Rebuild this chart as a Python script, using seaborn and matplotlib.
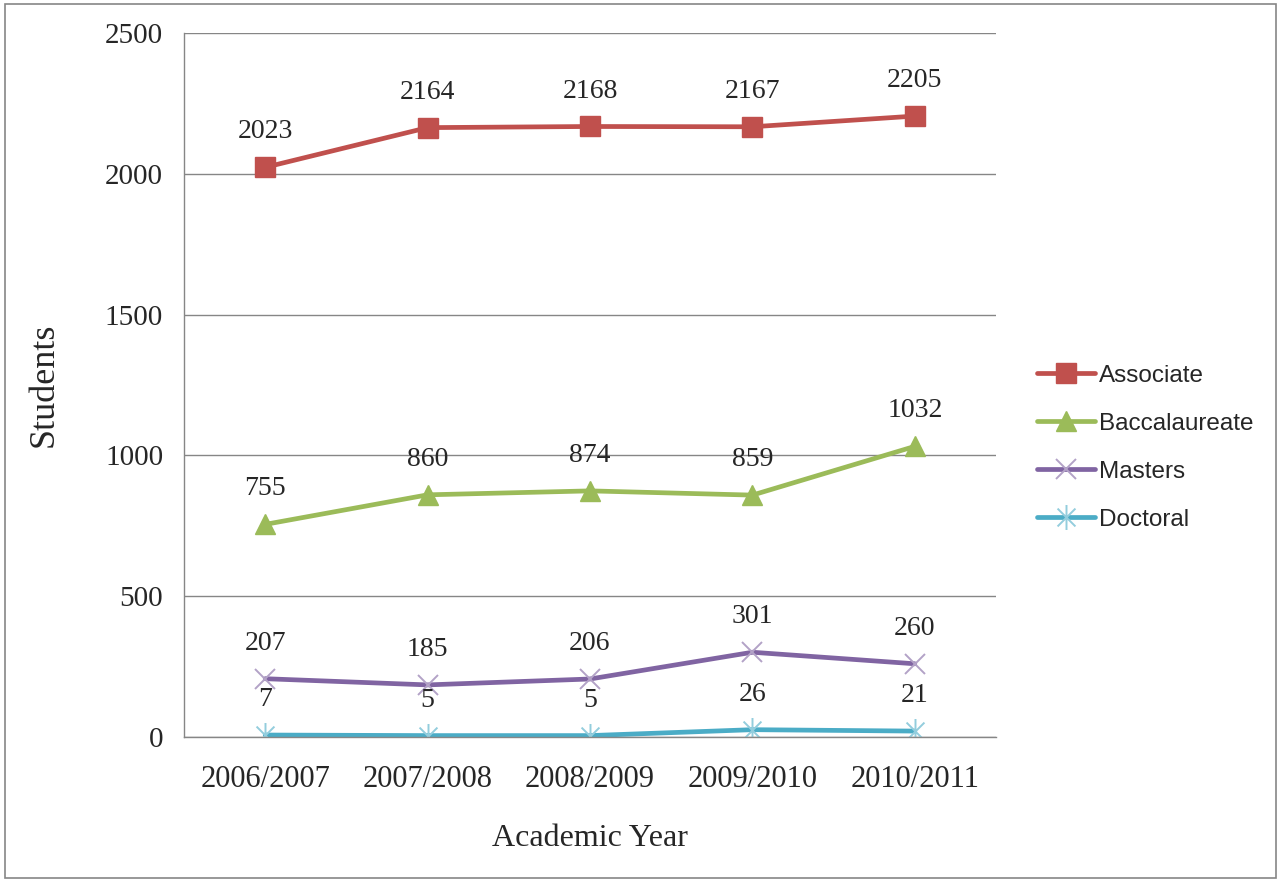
import numpy as np
import pandas as pd
import seaborn as sns
import matplotlib.pyplot as plt
from matplotlib.path import Path
from matplotlib.patches import Rectangle

years = ["2006/2007", "2007/2008", "2008/2009", "2009/2010", "2010/2011"]
associate = [2023, 2164, 2168, 2167, 2205]
baccalaureate = [755, 860, 874, 859, 1032]
masters = [207, 185, 206, 301, 260]
doctoral = [7, 5, 5, 26, 21]

# excel-style asterisk: x plus a vertical bar
star = Path([(-1, -1), (1, 1), (-1, 1), (1, -1), (0, -1.4), (0, 1.4)],
            [Path.MOVETO, Path.LINETO, Path.MOVETO, Path.LINETO, Path.MOVETO, Path.LINETO])

series = [
    ("Associate", associate, "#C0504D", "s", "#C0504D", 14.5),
    ("Baccalaureate", baccalaureate, "#9BBB59", "^", "#9BBB59", 14.5),
    ("Masters", masters, "#8064A2", "x", "#B3A2C7", 15),
    ("Doctoral", doctoral, "#4BACC6", star, "#93CDDD", 18),
]

sns.set_style("white")
serif = ["Liberation Serif", "DejaVu Serif"]

fig = plt.figure(figsize=(12.81, 8.82), dpi=100)
ax = fig.add_axes([184 / 1281, 1 - 737 / 882, (996 - 184) / 1281, (737 - 33) / 882])

for name, vals, col, mk, mcol, ms in series:
    sns.lineplot(x=years, y=vals, ax=ax, color=col, linewidth=3.4, marker=mk,
                 markersize=ms, markeredgecolor=mcol, markerfacecolor=mcol,
                 markeredgewidth=1.4 if (mk == "x" or mk is star) else 1,
                 label=name, sort=False)
    for i, v in enumerate(vals):
        ax.annotate(str(v), (i, v), xytext=(0, 25.5), textcoords="offset points",
                    ha="center", va="center", fontsize=20, family=serif)

ax.set_xlim(-0.5, 4.5)
ax.set_ylim(0, 2500)
ax.set_yticks(np.arange(0, 2501, 500))
ax.set_xticks(range(len(years)))
ax.set_xticklabels(years)
ax.set_xticks(np.arange(-0.5, 5, 1), minor=True)
ax.tick_params(axis="x", which="major", length=0, pad=20, labelsize=22)
ax.tick_params(axis="x", which="minor", length=7, direction="out", color="#868686", width=1)
ax.tick_params(axis="y", length=7, direction="out", color="#868686", width=1, labelsize=21, pad=8)
for lab in ax.get_xticklabels() + ax.get_yticklabels():
    lab.set_family(serif)

ax.yaxis.grid(True, color="#868686", linewidth=1)
ax.set_axisbelow(True)
for s in ["top", "right"]:
    ax.spines[s].set_visible(False)
for s in ["left", "bottom"]:
    ax.spines[s].set_color("#868686")
    ax.spines[s].set_linewidth(1)

ax.set_xlabel("Academic Year", fontsize=23, family=serif, labelpad=22)
ax.set_ylabel("Students", fontsize=26, family=serif, labelpad=32)

ax.legend(loc="center left", bbox_to_anchor=(1.023, 0.411), frameon=False,
          prop={"family": ["Liberation Sans", "DejaVu Sans"], "size": 17.5},
          handlelength=2.4, handletextpad=0.15, labelspacing=1.07)

fig.patches.append(Rectangle((0.004, 0.004), 0.992, 0.992, transform=fig.transFigure,
                             fill=False, edgecolor="#868686", linewidth=1.2))

fig.savefig("out.png", dpi=100)
